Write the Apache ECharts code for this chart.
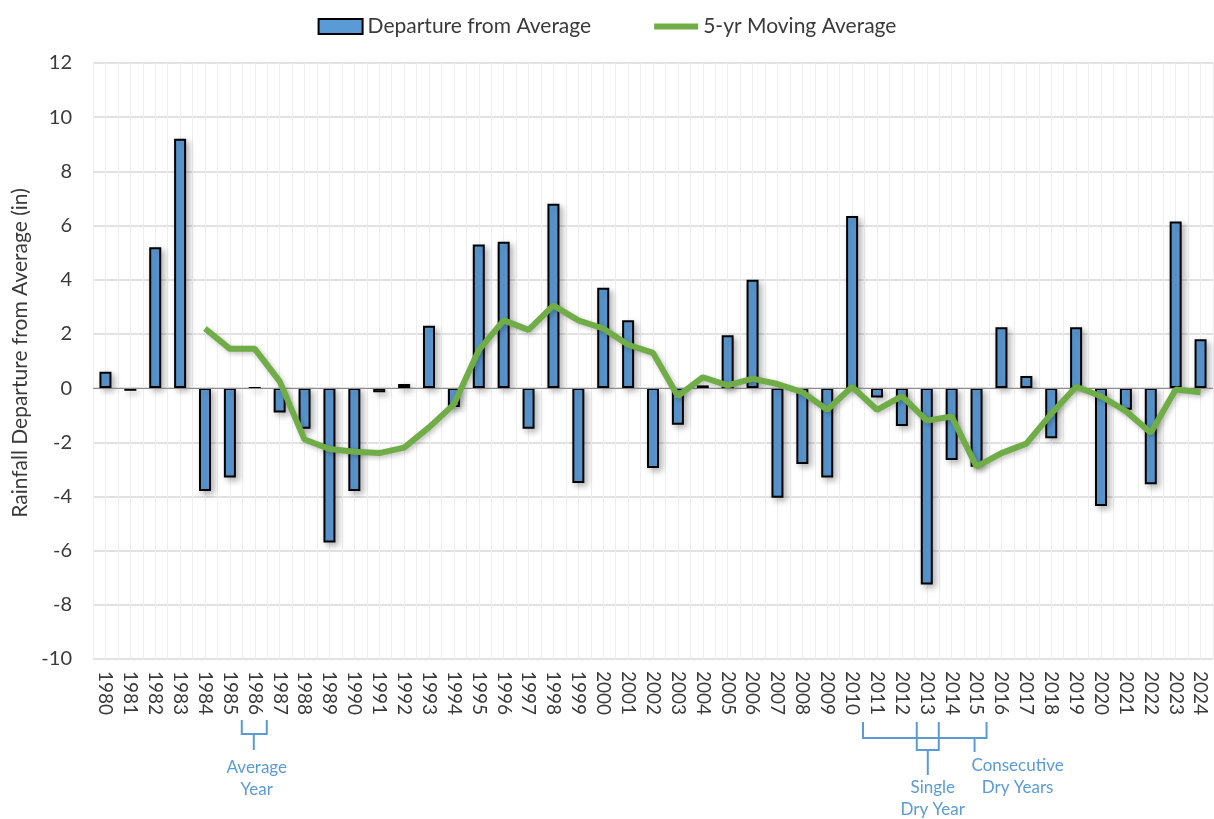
<!DOCTYPE html>
<html>
<head>
<meta charset="utf-8">
<script src="https://cdn.jsdelivr.net/npm/echarts@6/dist/echarts.min.js"></script>
<style>
  html, body { margin: 0; padding: 0; background: #fff; }
  #chart { width: 1214px; height: 819px; }
</style>
</head>
<body>
<div id="chart"></div>
<script>
// rainfall departure from average, by water year
var years = ['1980', '1981', '1982', '1983', '1984', '1985', '1986', '1987', '1988', '1989',
  '1990', '1991', '1992', '1993', '1994', '1995', '1996', '1997', '1998', '1999',
  '2000', '2001', '2002', '2003', '2004', '2005', '2006', '2007', '2008', '2009',
  '2010', '2011', '2012', '2013', '2014', '2015', '2016', '2017', '2018', '2019',
  '2020', '2021', '2022', '2023', '2024'];

var departure = [0.6, -0.1, 5.2, 9.2, -3.8, -3.3, 0, -0.9, -1.5, -5.7,
  -3.8, -0.15, 0.15, 2.3, -0.7, 5.3, 5.4, -1.5, 6.8, -3.5,
  3.7, 2.5, -2.95, -1.35, 0.1, 1.95, 4.0, -4.05, -2.8, -3.3,
  6.35, -0.35, -1.4, -7.25, -2.65, -2.9, 2.25, 0.45, -1.85, 2.25,
  -4.35, -0.8, -3.55, 6.15, 1.8];

// 5-yr moving average (first value at 1984)
var movingAvg = [null, null, null, null, 2.2, 1.45, 1.45, 0.25, -1.9, -2.25,
  -2.35, -2.4, -2.2, -1.45, -0.6, 1.4, 2.5, 2.15, 3.05, 2.5,
  2.2, 1.6, 1.3, -0.3, 0.4, 0.1, 0.35, 0.15, -0.15, -0.8,
  0.05, -0.8, -0.3, -1.2, -1.05, -2.9, -2.4, -2.05, -0.95, 0.05,
  -0.3, -0.85, -1.65, -0.05, -0.15];

var yMin = -10, yMax = 12, yStep = 2;

var FONT = 'Lato';
var BLUE = '#5b9bd5';
var GREEN = '#70ad47';

var chart = echarts.init(document.getElementById('chart'));

chart.setOption({
  animation: false,
  backgroundColor: '#fff',
  textStyle: { fontFamily: FONT },
  legend: {
    top: 11,
    left: 'center',
    itemGap: 60,
    itemWidth: 44,
    itemHeight: 15,
    textStyle: { fontFamily: FONT, fontSize: 21, color: '#3a3a3a' },
    data: [
      { name: 'Departure from Average', icon: 'rect', itemStyle: { color: BLUE, borderColor: '#000', borderWidth: 2 } },
      {
        name: '5-yr Moving Average',
        itemStyle: { color: 'rgba(0,0,0,0)', borderWidth: 0 },
        lineStyle: { color: GREEN, width: 6 }
      }
    ]
  },
  grid: { left: 93, right: 1, top: 63, bottom: 160, outerBoundsMode: 'none' },
  xAxis: [
    {
      type: 'category',
      data: years,
      axisLine: { show: false },
      axisTick: { show: false },
      splitLine: { show: false },
      axisLabel: {
        rotate: -90,
        interval: 0,
        margin: 12,
        fontFamily: FONT,
        fontSize: 19,
        color: '#3a3a3a'
      }
    },
    {
      // light vertical grid, two lines per year
      type: 'value',
      position: 'top',
      min: 0,
      max: years.length * 2,
      interval: 1,
      axisLine: { show: false },
      axisTick: { show: false },
      axisLabel: { show: false },
      splitLine: { show: true, lineStyle: { color: '#eeeeee', width: 1 } }
    }
  ],
  yAxis: {
    type: 'value',
    min: yMin,
    max: yMax,
    interval: yStep,
    name: 'Rainfall Departure from Average (in)',
    nameLocation: 'middle',
    nameGap: 62,
    nameTextStyle: { fontFamily: FONT, fontSize: 21, color: '#3a3a3a', padding: [0, 0, 0, 16] },
    axisLine: { show: false },
    axisTick: { show: false },
    axisLabel: { fontFamily: FONT, fontSize: 20, color: '#3a3a3a', margin: 21 },
    splitLine: { lineStyle: { color: '#d9d9d9', width: 1.5 } }
  },
  series: [
    {
      name: 'Departure from Average',
      type: 'bar',
      data: departure,
      barWidth: 12,
      itemStyle: {
        color: BLUE,
        borderColor: '#000',
        borderWidth: 2,
        shadowBlur: 6,
        shadowOffsetX: 3,
        shadowOffsetY: 3,
        shadowColor: 'rgba(0,0,0,0.28)'
      },
      markLine: {
        silent: true,
        symbol: 'none',
        label: { show: false },
        lineStyle: { color: '#8c8c8c', width: 1.2, type: 'solid' },
        data: [{ yAxis: 0 }]
      }
    },
    {
      name: '5-yr Moving Average',
      type: 'line',
      data: movingAvg,
      showSymbol: false,
      symbol: 'none',
      z: 5,
      lineStyle: {
        color: GREEN,
        width: 6,
        shadowBlur: 5,
        shadowOffsetX: 2,
        shadowOffsetY: 2,
        shadowColor: 'rgba(0,0,0,0.25)'
      },
      itemStyle: { color: GREEN }
    }
  ]
});

// bracket annotations under the year labels
function brace(xl, xr, yTop, yMid, xs, yBot) {
  var st = { stroke: BLUE, lineWidth: 2, fill: null };
  return [
    { type: 'polyline', shape: { points: [[xl, yTop], [xl, yMid], [xr, yMid], [xr, yTop]] }, style: st },
    { type: 'polyline', shape: { points: [[xs, yMid], [xs, yBot]] }, style: st }
  ];
}

function px(year) {
  return chart.convertToPixel({ xAxisIndex: 0 }, year);
}

function note(x, y, txt) {
  return {
    type: 'text',
    x: x,
    y: y,
    style: {
      text: txt,
      fill: BLUE,
      font: '17px ' + FONT,
      textAlign: 'center',
      textVerticalAlign: 'middle'
    }
  };
}

var c86 = px('1986'), c11 = px('2011'), c13 = px('2013'), c15 = px('2015');

var marks = []
  .concat(brace(c86 - 13, c86 + 12, 720, 734, c86 - 1, 750))
  .concat(brace(c11 - 14, c15 + 10, 722, 738, c15 - 2, 752))
  .concat(brace(c13 - 10, c13 + 12, 722, 750, c13 + 1, 775));

marks.push(
  note(c86 + 2, 768, 'Average'),
  note(c86 + 2, 790, 'Year'),
  note(c13 + 6, 788, 'Single'),
  note(c13 + 6, 810, 'Dry Year'),
  note(c15 + 41, 766, 'Consecutive'),
  note(c15 + 41, 788, 'Dry Years')
);

chart.setOption({ graphic: marks });
</script>
</body>
</html>
